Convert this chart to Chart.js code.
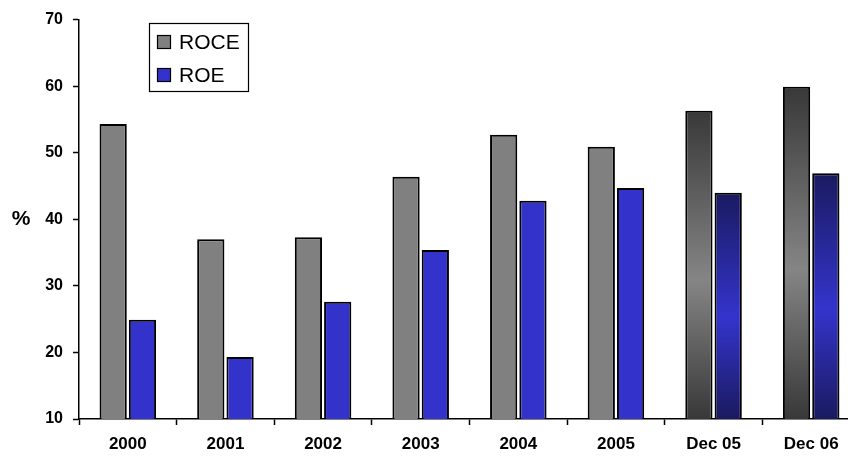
<!DOCTYPE html>
<html>
<head>
<meta charset="utf-8">
<script src="https://cdn.jsdelivr.net/npm/chart.js@4.4.1/dist/chart.umd.min.js"></script>
<style>
  html, body { margin: 0; padding: 0; background: #fff; overflow: hidden; }
  #wrap { position: relative; width: 866px; height: 458px; }
</style>
</head>
<body>
<div id="wrap"><canvas id="chart_1"></canvas></div>
<script>
var categories = ['2000', '2001', '2002', '2003', '2004', '2005', 'Dec 05', 'Dec 06'];
var roce = [54.3, 37.0, 37.3, 46.4, 52.7, 50.9, 56.3, 59.9];
var roe = [24.9, 19.3, 27.6, 35.4, 42.8, 44.7, 44.0, 46.9];
var yTicks = [10, 20, 30, 40, 50, 60, 70];

var FONT = "'Liberation Sans', Arial, sans-serif";

// the two "Dec" periods are drawn with a dark-light-dark fill
function barFill(solid, dark, light) {
    return function (ctx) {
        var chart = ctx.chart;
        if (ctx.dataIndex < 6 || !chart.chartArea) return solid;
        var ys = chart.scales.y;
        var top = ys.getPixelForValue(ctx.raw);
        var bottom = ys.getPixelForValue(ys.min);
        var g = chart.ctx.createLinearGradient(0, top, 0, bottom);
        g.addColorStop(0, dark);
        g.addColorStop(0.55, light);
        g.addColorStop(1, dark);
        return g;
    };
}

var boxLegend = {
    id: 'boxLegend',
    afterDraw: function (chart) {
        var c = chart.ctx;
        c.save();
        // % label
        c.fillStyle = '#000';
        c.font = 'bold 21px ' + FONT;
        c.textAlign = 'center';
        c.textBaseline = 'middle';
        c.fillText('%', 21, 219);
        // legend box
        c.lineWidth = 1.2;
        c.strokeStyle = '#000';
        c.fillStyle = '#fff';
        c.fillRect(149.5, 23.5, 99, 68);
        c.strokeRect(149.5, 23.5, 99, 68);
        var rows = [42, 75];
        chart.data.datasets.forEach(function (ds, i) {
            c.fillStyle = ds.legendColor;
            c.fillRect(157.5, rows[i] - 6.5, 13, 13);
            c.strokeRect(157.5, rows[i] - 6.5, 13, 13);
            c.fillStyle = '#000';
            c.font = '21px ' + FONT;
            c.textAlign = 'left';
            c.fillText(ds.label, 179, rows[i] + 1);
        });
        c.restore();
    }
};

var ctx1 = document.getElementById('chart_1').getContext('2d');
var barChart = new Chart(ctx1, {
    type: 'bar',
    data: {
        labels: categories,
        datasets: [
            {
                label: 'ROCE',
                data: roce,
                legendColor: '#808080',
                backgroundColor: barFill('#808080', '#383838', '#858585'),
                borderColor: '#000',
                borderWidth: 2,
                borderSkipped: 'bottom'
            },
            {
                label: 'ROE',
                data: roe,
                legendColor: '#3333cc',
                backgroundColor: barFill('#3333cc', '#1a1a60', '#3434cc'),
                borderColor: '#000',
                borderWidth: 2,
                borderSkipped: 'bottom'
            }
        ]
    },
    plugins: [boxLegend],
    options: {
        animation: false,
        responsive: true,
        maintainAspectRatio: false,
        categoryPercentage: 0.6,
        barPercentage: 0.93,
        layout: { padding: { top: 19, right: 6, left: 0, bottom: 0 } },
        plugins: {
            legend: { display: false },
            tooltip: { enabled: false }
        },
        scales: {
            x: {
                offset: true,
                grid: {
                    offset: true,
                    drawOnChartArea: false,
                    tickLength: 6,
                    tickColor: '#000',
                    tickWidth: 1.5
                },
                border: { color: '#000', width: 1.5 },
                ticks: {
                    color: '#000',
                    padding: 9,
                    maxRotation: 0,
                    font: { family: FONT, size: 17, weight: 'bold' }
                },
                afterFit: function (scale) { scale.height = 39; }
            },
            y: {
                min: 10,
                max: 70,
                afterBuildTicks: function (scale) {
                    scale.ticks = yTicks.map(function (v) { return { value: v }; });
                },
                grid: {
                    drawOnChartArea: false,
                    tickLength: 6,
                    tickColor: '#000',
                    tickWidth: 1.5
                },
                border: { color: '#000', width: 1.5 },
                ticks: {
                    color: '#000',
                    padding: 10,
                    font: { family: FONT, size: 16, weight: 'bold' }
                },
                afterFit: function (scale) { scale.width = 79; }
            }
        }
    }
});
</script>
</body>
</html>
